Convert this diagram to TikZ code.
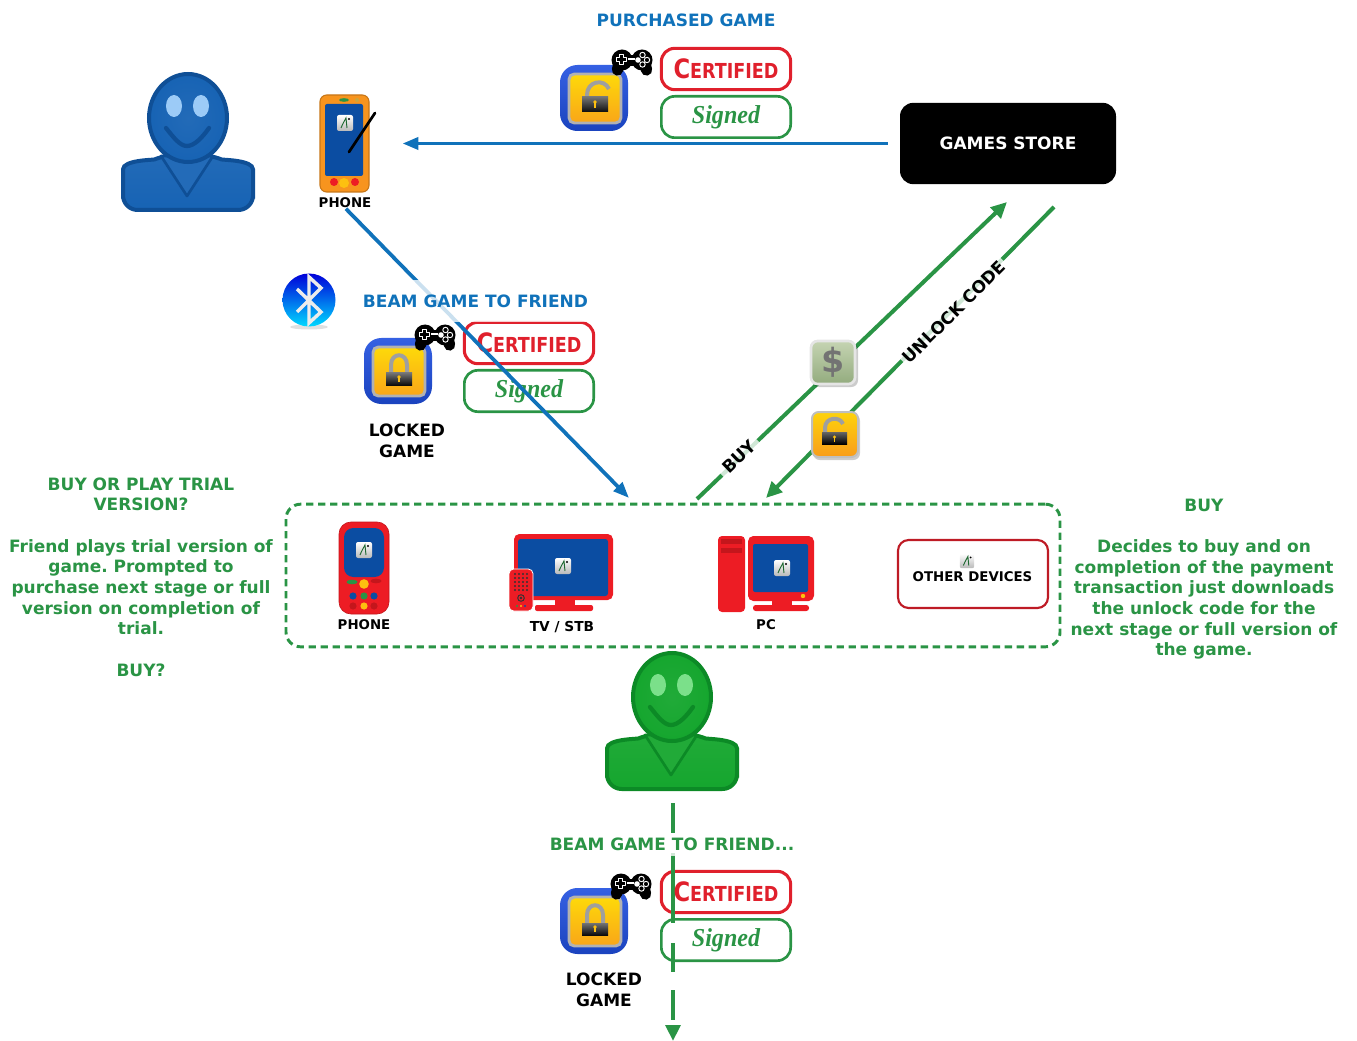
\documentclass[tikz,border=0pt]{standalone}
\usepackage{fontspec}
\usepackage{graphicx}
\setmainfont{DejaVu Sans}
\newfontfamily\signfont{Liberation Serif}[UprightFont=* Bold Italic]
\usetikzlibrary{arrows.meta}
\definecolor{gbl}{HTML}{1072BA}
\definecolor{ggr}{HTML}{2A9445}
\definecolor{gre}{HTML}{E0202C}
\definecolor{dred}{HTML}{ED1C24}
\definecolor{dredd}{HTML}{C4161C}
\definecolor{scr}{HTML}{0B4DA2}
\definecolor{iconblue}{HTML}{1F4FE0}
\definecolor{ora}{HTML}{F7941E}
\definecolor{yel}{HTML}{FDC010}
\definecolor{pblue}{HTML}{1763B4}
\definecolor{pblued}{HTML}{0F4F96}
\definecolor{pbluee}{HTML}{9CCBF7}
\definecolor{pgreen}{HTML}{15A62E}
\definecolor{pgreend}{HTML}{0C8A26}
\definecolor{pgreene}{HTML}{7BE08A}
\definecolor{dollartop}{HTML}{C5D4B2}
\definecolor{dollarbot}{HTML}{93AB7E}
\newcommand{\certtext}{\bfseries\scalebox{.85}[1]{\fontsize{20}{20}\selectfont C\fontsize{15.5}{15.5}\selectfont ERTIFIED}}
\newcommand{\signtext}{\signfont\raisebox{-1.5pt}{\scalebox{.95}[1.02]{\fontsize{19}{19}\selectfont Signed}}}
\tikzset{
  ttl/.style={font=\frenchspacing\bfseries\fontsize{12.75}{15.5}\selectfont,align=center,inner sep=0pt},
  fadelabel/.style={ttl,fill=white,fill opacity=.78,text opacity=1},
  small/.style={font=\bfseries\fontsize{10}{12}\selectfont,inner sep=0pt,text=black},
  certbox/.style={draw=gre,line width=2.3pt,rounded corners=10pt,minimum width=97pt,minimum height=31pt,inner sep=0pt,text=gre},
  signbox/.style={draw=ggr,line width=2pt,rounded corners=10pt,minimum width=97pt,minimum height=31pt,inner sep=0pt,text=ggr},
  garrow/.style={draw=ggr,line width=3pt,-{Triangle[length=12pt,width=11pt]}},
  barrow/.style={draw=gbl,line width=2.8pt,-{Triangle[length=12pt,width=9pt]}},
  pics/person/.style n args={3}{code={
    \path[draw=#2,line width=3pt,top color=#1!95!white,bottom color=#1,rounded corners=11pt]
      (-20,36) .. controls (-35,42) and (-65,42) .. (-65,66) -- (-65,92) -- (65,92) -- (65,66)
      .. controls (65,42) and (35,42) .. (20,36) -- cycle;
    \path[draw=#2,line width=2pt,fill=#1!95!white,line join=round] (-27,38) -- (-1,78) -- (25,38) -- cycle;
    \path[draw=#2,line width=3pt,inner color=#1!95!white,outer color=#1] (0,0) ellipse [x radius=39,y radius=44];
    \fill[#3] (-14,-12) ellipse [x radius=8,y radius=11];
    \fill[#3] (13,-12) ellipse [x radius=8,y radius=11];
    \draw[#2,line width=3.2pt,line cap=round] (-22,10) .. controls (-14,20) and (-8,28) .. (-1,28) .. controls (6,28) and (14,20) .. (21,10);
  }},
  pics/lockbase/.style={code={
    \path[rounded corners=13pt,top color=iconblue!90!white,bottom color=iconblue!85!black] (-34,-33) rectangle (34,33);
    \path[rounded corners=4pt,draw=gray!60,line width=2.2pt,top color=yel!60!yellow,bottom color=ora!60!yel] (-25,-24) rectangle (27,25);
  }},
  pics/lockclosed/.style={code={
    \pic {lockbase};
    \draw[gray!75,line width=3pt] (-7,4) -- (-7,-6) .. controls (-7,-19) and (9,-19) .. (9,-6) -- (9,4);
    \path[top color=black!55,bottom color=black!95] (-12,2) rectangle (14,14);
    \fill[yel] (1,6) circle [radius=1.8];
    \fill[yel] (0.2,6) rectangle (1.8,11);
  }},
  pics/lockopen/.style={code={
    \pic {lockbase};
    \draw[gray!75,line width=3pt] (-7,0) -- (-7,-3) .. controls (-7,-17) and (10,-20) .. (15,-9);
    \path[top color=black!55,bottom color=black!95] (-12,-1) rectangle (14,14);
    \fill[yel] (1,4) circle [radius=1.8];
    \fill[yel] (0.2,4) rectangle (1.8,10);
  }},
  pics/gamepad/.style={code={
    \fill[black] (-10,-3) circle [radius=10.5];
    \fill[black] (10,-3) circle [radius=10.5];
    \fill[black] (-10,-8) rectangle (10,3);
    \draw[black,line width=8.5pt,line cap=round] (-13,0) -- (-14.5,7);
    \draw[black,line width=8.5pt,line cap=round] (13,0) -- (14.5,7);
    \draw[white,line width=.7pt,line join=round] (-13,-9) -- (-9,-9) -- (-9,-6) -- (-6,-6) -- (-6,-2) -- (-9,-2) -- (-9,1) -- (-13,1) -- (-13,-2) -- (-16,-2) -- (-16,-6) -- (-13,-6) -- cycle;
    \fill[white] (-4,-5) rectangle (3,-3);
    \fill[white] (6,-3) circle [radius=2.8];
    \draw[white,line width=.7pt] (10.5,-8) circle [radius=2.7] (15,-3) circle [radius=2.7] (10.5,1.5) circle [radius=2.7];
  }},
  pics/appicon/.style={code={
    \path[rounded corners=1.5pt,top color=white,bottom color=gray!55] (-8,-8) rectangle (8,8);
    \draw[ggr!70!black,line width=.7pt] (-4,5) .. controls (-2,0) and (0,-3) .. (1,-5) .. controls (1.5,-1) and (1.5,2) .. (2,5);
    \fill[black] (4,-4) circle [radius=1.1];
  }}
}
\begin{document}
\begin{tikzpicture}[x=.75pt,y=-.75pt]
\useasboundingbox (0,0) rectangle (1357,1041);

% ---- named anchors
\coordinate (beamEnd) at (629,498);
\coordinate (buyS) at (697,499);
\coordinate (buyE) at (1007,202);
\coordinate (codeS) at (1054,207);
\coordinate (codeE) at (766,498);
\coordinate (fwdS) at (673,803);
\coordinate (fwdE) at (673,1041);

% ---- top user
\pic at (188,118) {person={pblue}{pblued}{pbluee}};

% ---- top phone
\node[inner sep=0pt,minimum width=37.5pt,minimum height=73pt] (phoneA) at (344.5,143.5) {};
\path[draw=ora!80!black,line width=.8pt,rounded corners=5pt,fill=ora] (320,95) rectangle (369,192);
\fill[scr,rounded corners=1.5pt] (325,104) rectangle (363,176);
\pic at (345,123) {appicon};
\draw[black,line width=2pt,line cap=round] (375,113) -- (349,152);
\fill[ggr] (344,100) ellipse [x radius=5,y radius=1.8];
\fill[yel!60!gray] (357,100) circle [radius=2];
\fill[dred] (334,182) circle [radius=4];
\fill[dred] (355,182) circle [radius=4];
\fill[yel] (344,183) circle [radius=5];
\node[small] (phoneAlab) at (345,202.5) {PHONE};

% ---- store
\node[fill=black,rounded corners=10pt,minimum width=162pt,minimum height=61pt,text=white,ttl] (store) at (1008,143.5) {GAMES STORE};

% ---- purchased group
\node[ttl,text=gbl] (purch) at (686,20) {PURCHASED GAME};
\pic at (594,98) {lockopen};
\pic at (632,63) {gamepad};
\node[certbox] (cert1) at (726,69) {\certtext};
\node[signbox] (sign1) at (726,117) {\signtext};
\draw[barrow] (store.west) [shorten <=9pt,shorten >=24.5pt] -- (store.west -| phoneA.east);

% ---- beam group
\pic at (398,371) {lockclosed};
\pic at (435,338) {gamepad};
\node[certbox] (cert2) at (529,343) {\certtext};
\node[signbox] (sign2) at (529,391) {\signtext};
\node[ttl,text=black] (lock2) at (407,440.5) {LOCKED\\GAME};
\draw[barrow] (phoneAlab.south) [shorten <=1pt] -- (beamEnd);
\node[fadelabel,text=gbl,minimum height=32pt] (beam) at (475.5,301) {BEAM GAME TO FRIEND};

% bluetooth
\fill[gray!40,opacity=.6] (309,327) ellipse [x radius=19,y radius=2.5];
\shade[top color=blue!85!black,middle color=blue!45!cyan,bottom color=cyan!85!blue] (309,300) circle [radius=26.5];
\draw[gray!15,line width=2.6pt,line join=miter]
  (297,289) -- (321,312) -- (309,323) -- (309,277) -- (321,288) -- (297,312);
\node[inner sep=0pt,minimum size=40pt] (bt) at (309,300) {};

% ---- buy / unlock connectors
\draw[garrow] (buyS) -- (buyE);
\draw[garrow] (codeS) -- (codeE);
\node[fadelabel,text=black,rotate=44,inner sep=4pt] (buy) at (739,457) {BUY};
\node[fadelabel,text=black,rotate=45,inner sep=2pt] (code) at (954,312) {UNLOCK CODE};

% dollar icon
\fill[black,opacity=.2] (812,343) [rounded corners=5pt] rectangle (858,387);
\path[draw=gray!20,line width=2pt,rounded corners=5pt,top color=dollartop,bottom color=dollarbot] (811,341) rectangle (855,384);
\node[inner sep=0pt,text=gray!90!black,font=\bfseries\fontsize{25}{25}\selectfont] (dollar) at (833,362) {\$};

% unlock icon
\fill[black,opacity=.2] (813,414) [rounded corners=5pt] rectangle (860,460);
\path[draw=gray!50,line width=1.5pt,rounded corners=5pt,top color=yel!70!yellow,bottom color=ora!80!yel] (812,412) rectangle (858,457);
\draw[gray!75,line width=3pt] (825,432) -- (825,428) .. controls (825,417) and (840,416) .. (843,424);
\path[top color=black!60,bottom color=black] (822,432) rectangle (847,444);
\fill[yel] (834.5,437) circle [radius=1.6];
\fill[yel] (833.7,437) rectangle (835.3,442);

% ---- devices box
\node[draw=ggr,line width=2.2pt,dash pattern=on 5.5pt off 3.5pt,rounded corners=11pt,minimum width=580.5pt,minimum height=107pt,inner sep=0pt] (devbox) at (673,575.5) {};

% device phone
\path[rounded corners=9pt,fill=dred,draw=dredd,line width=.5pt] (339,522) rectangle (389,614);
\fill[scr,rounded corners=7pt] (344,528) rectangle (384,577);
\pic at (364,550) {appicon};
\foreach \a/\b/\c in {353/596/scr,364/596/ggr,374/596/scr,364/606/yel,353/606/dredd,374/606/dredd}
  \fill[\c] (\a,\b) circle [radius=3.6];
\fill[yel] (364,584) circle [radius=4.8];
\fill[ggr] (352,582) ellipse [x radius=5.5,y radius=2.3];
\fill[dredd] (376,581) ellipse [x radius=5.5,y radius=2.3];
\node[small] (phoneBlab) at (364,625) {PHONE};

% tv
\path[rounded corners=4pt,fill=dred] (514,534) rectangle (613,600);
\fill[scr,rounded corners=2pt] (518,539) rectangle (608,596);
\pic at (563,566) {appicon};
\fill[dred] (555,600) rectangle (575,606);
\fill[dred,rounded corners=1.5pt] (535,605) rectangle (593,611);
\path[rounded corners=3.5pt,fill=dred,draw=white,line width=.6pt] (509,569) rectangle (533,611);
\foreach \a in {515,519,523,527} \foreach \b in {574,578,582,586,590}
  \fill[black!80] (\a,\b) circle [radius=1.1];
\draw[black!80,line width=.7pt] (521,598) circle [radius=3.3];
\fill[black!80] (521,598) circle [radius=1.3];
\fill[ggr] (517,606) circle [radius=1.2];
\fill[yel] (521,606) circle [radius=1.2];
\fill[scr] (525,606) circle [radius=1.2];
\node[small,font=\bfseries\fontsize{10.3}{12}\selectfont] (tvlab) at (562,627.5) {TV / STB};

% pc
\path[rounded corners=3pt,fill=dred] (718,536) rectangle (745,612);
\fill[dredd] (721,539) rectangle (742,544);
\fill[dredd] (721,548) rectangle (742,553);
\path[rounded corners=4pt,fill=dred] (748,536) rectangle (814,601);
\fill[scr,rounded corners=1.5pt] (753,544) rectangle (808,592);
\pic at (782,568) {appicon};
\fill[yel] (803,596) circle [radius=2.2];
\fill[dred] (772,600) rectangle (792,606);
\fill[dred,rounded corners=2pt] (753,605) rectangle (809,611);
\node[small] (pclab) at (766,625) {PC};

% other devices
\node[draw=gre!85!black,line width=1.6pt,rounded corners=8pt,minimum width=112.5pt,minimum height=51pt,inner sep=0pt] (other) at (973,574) {};
\pic[scale=.9] at (967,561) {appicon};
\node[small] (otherlab) at (972.5,577) {OTHER DEVICES};

% ---- side texts
\node[ttl,text=ggr] (lefttxt) at (141,577) {BUY OR PLAY TRIAL\\VERSION?\\[15.5pt]Friend plays trial version of\\game. Prompted to\\purchase next stage or full\\version on completion of\\trial.\\[15.5pt]BUY?};
\node[ttl,text=ggr] (righttxt) at (1204,579) {BUY\\[15.5pt]Decides to buy and on\\completion of the payment\\transaction just downloads\\the unlock code for the\\next stage or full version of\\the game.};

% ---- friend
\pic at (672,697) {person={pgreen}{pgreend}{pgreene}};

% ---- bottom group
\pic at (594,921) {lockclosed};
\pic at (631,887) {gamepad};
\node[certbox] (cert3) at (726,892) {};
\node[signbox] (sign3) at (726,940) {\signtext};
\node[ttl,text=black] (lock3) at (604,989.5) {LOCKED\\GAME};
\draw[garrow,line width=3pt,dash pattern=on 22.5pt off 15pt on 52.5pt off 15pt on 21.75pt off 13.5pt on 22.5pt off 30pt] (fwdS) -- (fwdE);
\node[inner sep=0pt,text=gre] (cert3txt) at (726,892) {\certtext};
\node[fadelabel,text=ggr,inner ysep=4pt] (beam3) at (672,844.5) {BEAM GAME TO FRIEND...};
\end{tikzpicture}
\end{document}
